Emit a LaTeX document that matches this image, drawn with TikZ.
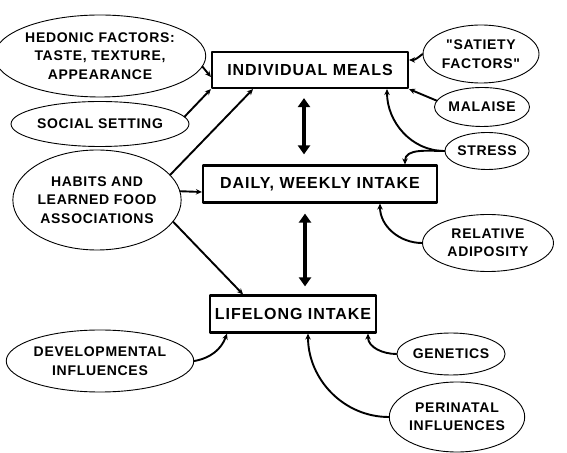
\documentclass[tikz,border=0pt]{standalone}
\usepackage{fontspec}
\newfontfamily\boxfont{Liberation Sans}[LetterSpace=6.0]
\newfontfamily\ovalfont{Liberation Sans}[LetterSpace=5.0]
\usetikzlibrary{shapes.geometric,arrows.meta}
\begin{document}
\begin{tikzpicture}[x=1pt,y=1pt, line join=round, line cap=round,
	box/.style={draw,line width=2.2pt,inner sep=0pt,font=\fontsize{16}{19}\selectfont\boxfont\bfseries},
	oval/.style 2 args={draw,ellipse,line width=.9pt,inner sep=0pt,align=center,minimum width=#1,minimum height=#2,font=\fontsize{14}{18.5}\selectfont\ovalfont\bfseries},
	arr/.style={line width=1.9pt,-{Stealth[length=6pt,width=5.5pt]}},
	dbl/.style={line width=3.4pt,{Triangle[length=9pt,width=12pt]}-{Triangle[length=9pt,width=12pt]}}]
	\useasboundingbox (0,0) rectangle (567,452);
	%Cac khung giua
	\node[box,minimum width=196,minimum height=36] (meals) at (310,382) {INDIVIDUAL MEALS};
	\node[box,minimum width=234,minimum height=37] (daily) at (320,268) {DAILY, WEEKLY INTAKE};
	\node[box,minimum width=166,minimum height=37] (life) at (293,138) {LIFELONG INTAKE};
	
	%Cac elip
	\node[oval={186}{82}] (hed) at (100,396) {HEDONIC FACTORS:\\TASTE, TEXTURE,\\APPEARANCE};
	\node[oval={170}{45}] (social) at (100,328) {SOCIAL SETTING};
	\node[oval={165}{100}] (habits) at (97,252) {HABITS AND\\LEARNED FOOD\\ASSOCIATIONS};
	\node[oval={116}{58}] (sat) at (481,398) {"SATIETY\\FACTORS"};
	\node[oval={90}{39}] (mal) at (482,345) {MALAISE};
	\node[oval={73}{37}] (stress) at (487,301) {STRESS};
	\node[oval={131}{57}] (adip) at (488,209) {RELATIVE\\ADIPOSITY};
	\node[oval={150}{62}] (dev) at (100,91) {DEVELOPMENTAL\\INFLUENCES};
	\node[oval={89}{42}] (gen) at (451,98) {GENETICS};
	\node[oval={131}{70}] (peri) at (457,35) {PERINATAL\\INFLUENCES};
	
	%Mui ten ben trai
	\draw[arr] (hed.-6) -- ([yshift=-7pt]meals.west);
	\draw[arr] (social.5) -- (meals.south west);
	\draw[arr] (habits.19) -- ([xshift=-57pt]meals.south);
	\draw[arr] (habits.6) -- ([yshift=-8pt]daily.west);
	\draw[arr] (habits.-16) -- ([xshift=-50pt]life.north);
	
	%Mui ten hai dau
	\draw[dbl,shorten <=9pt,shorten >=10pt] ([xshift=-6pt]meals.south) -- ([xshift=-6pt]meals.south |- daily.north);
	\draw[dbl,shorten <=10pt,shorten >=8pt] ([xshift=-15pt]daily.south) -- ([xshift=-15pt]daily.south |- life.north);
	
	%Mui ten ben phai
	\draw[arr] (sat.west) to[out=220,in=0] ([yshift=10pt]meals.east);
	\draw[arr] (mal.172) -- (meals.south east);
	\draw[arr] (stress.west) to[out=180,in=-90] ([xshift=77pt]meals.south);
	\draw[arr] (stress.west) to[out=180,in=90] ([xshift=85pt]daily.north);
	\draw[arr] (adip.west) to[out=180,in=-90] ([xshift=60pt]daily.south);
	
	%Mui ten duoi
	\draw[arr] (dev.east) to[out=10,in=-110] ([xshift=-66pt]life.south);
	\draw[arr] (gen.west) to[out=180,in=-90] ([xshift=75pt]life.south);
	\draw[arr] (peri.west) to[out=180,in=-90] ([xshift=15pt]life.south);
\end{tikzpicture}
\end{document}
